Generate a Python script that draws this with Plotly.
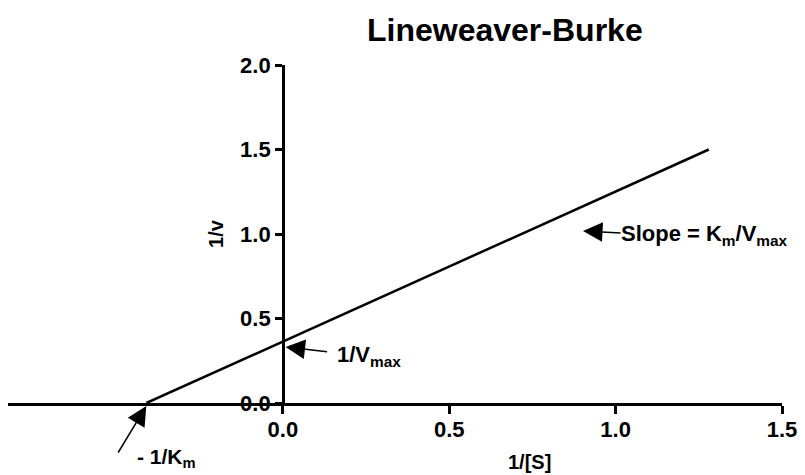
import plotly.graph_objects as go

# Data
line_x = [-0.41, 1.28]
line_y = [0.0, 1.5]
x_ticks = [0.0, 0.5, 1.0, 1.5]
x_tick_labels = ["0.0", "0.5", "1.0", "1.5"]
y_ticks = [0.0, 0.5, 1.0, 1.5, 2.0]
y_tick_labels = ["0.0", "0.5", "1.0", "1.5", "2.0"]
x_range = [-0.826, 1.5]
y_range = [0.0, 2.0]

FONT = "Arial, Liberation Sans, sans-serif"
L, R, T, B = 8, 19, 65, 72
PW, PH = 805 - L - R, 475 - T - B

fig = go.Figure()
fig.add_trace(go.Scatter(x=line_x, y=line_y, mode="lines",
                         line=dict(color="black", width=2.5),
                         showlegend=False, hoverinfo="skip"))

ypos = (0 - x_range[0]) / (x_range[1] - x_range[0])

fig.update_layout(
    width=805, height=475,
    margin=dict(l=L, r=R, t=T, b=B),
    paper_bgcolor="white", plot_bgcolor="white",
    font=dict(family=FONT, color="black"),
    xaxis=dict(range=x_range, tickvals=x_ticks, ticktext=x_tick_labels,
               showgrid=False, zeroline=False, showline=True, linecolor="black",
               linewidth=2.5, ticks="outside", ticklen=8, tickwidth=2.5, tickcolor="black",
               ticklabelstandoff=-3,
               tickfont=dict(family=FONT, size=22, color="black", weight="bold")),
    yaxis=dict(range=y_range, tickvals=y_ticks, ticktext=y_tick_labels,
               anchor="free", position=ypos,
               showgrid=False, zeroline=False, showline=True, linecolor="black",
               linewidth=2.5, ticks="outside", ticklen=7, tickwidth=2.5, tickcolor="black",
               tickfont=dict(family=FONT, size=22, color="black", weight="bold"),
               title=dict(text="<b>1/v</b>", font=dict(size=20), standoff=10)),
)

def px_x(px):
    return (px - L) / PW

def px_y(py):
    return (475 - B - py) / PH

annots = []
# Title
annots.append(dict(text="<b>Lineweaver-Burke</b>", xref="paper", yref="paper",
                   x=px_x(508), y=px_y(30), xanchor="center", yanchor="middle",
                   showarrow=False, font=dict(size=32, family=FONT, color="black")))
# x axis title
annots.append(dict(text="<b>1/[S]</b>", xref="paper", yref="paper",
                   x=px_x(532), y=px_y(462), xanchor="center", yanchor="middle",
                   showarrow=False, font=dict(size=20, family=FONT, color="black")))
# Text labels
annots.append(dict(text="<b>- 1/K<sub>m</sub></b>", xref="paper", yref="paper",
                   x=px_x(136), y=px_y(473), xanchor="left",
                   yanchor="bottom", showarrow=False, font=dict(size=21, family=FONT, color="black")))
annots.append(dict(text="<b>1/V<sub>max</sub></b>", xref="paper", yref="paper",
                   x=px_x(337), y=px_y(356), xanchor="left",
                   yanchor="middle", showarrow=False, font=dict(size=22, family=FONT, color="black")))
annots.append(dict(text="<b>Slope = K<sub>m</sub>/V<sub>max</sub></b>", xref="paper", yref="paper",
                   x=px_x(622), y=px_y(235),
                   xanchor="left", yanchor="middle", showarrow=False,
                   font=dict(size=22, family=FONT, color="black")))
# Arrows (head px, tail px)
for (hx, hy, tx, ty) in [(147, 406, 118, 454),
                         (287, 347, 330, 352),
                         (586, 231, 625, 233)]:
    annots.append(dict(text="", xref="paper", yref="paper",
                       x=px_x(hx), y=px_y(hy), ax=tx - hx, ay=ty - hy,
                       showarrow=True, arrowhead=2,
                       arrowsize=2.6, arrowwidth=1.5, arrowcolor="black", standoff=0))

fig.update_layout(annotations=annots)
fig.write_html("out.html")
